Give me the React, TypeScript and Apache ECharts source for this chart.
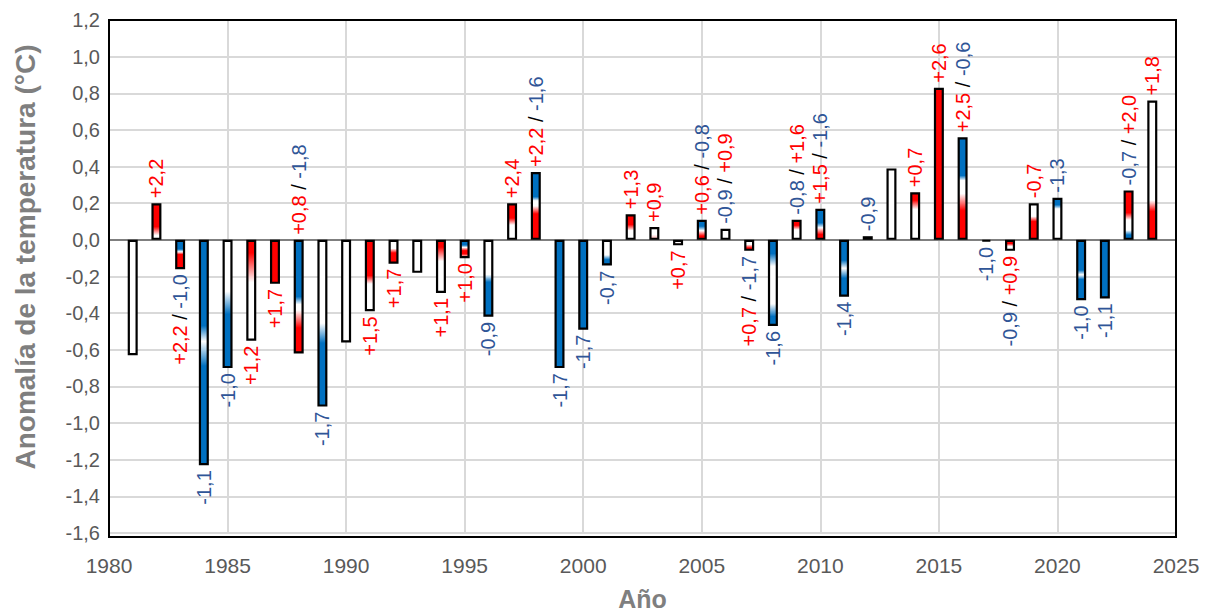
import React, { useEffect, useRef } from "react";
import * as echarts from "echarts";

const years = [
  1981, 1982, 1983, 1984, 1985, 1986, 1987, 1988, 1989, 1990, 1991,
  1992, 1993, 1994, 1995, 1996, 1997, 1998, 1999, 2000, 2001, 2002,
  2003, 2004, 2005, 2006, 2007, 2008, 2009, 2010, 2011, 2012, 2013,
  2014, 2015, 2016, 2017, 2018, 2019, 2020, 2021, 2022, 2023, 2024,
];

const anomalies = [
  -0.63, 0.2, -0.16, -1.23, -0.7, -0.55, -0.24, -0.62, -0.91, -0.56, -0.39,
  -0.13, -0.18, -0.29, -0.1, -0.42, 0.2, 0.37, -0.7, -0.49, -0.14, 0.14,
  0.07, -0.03, 0.11, 0.06, -0.06, -0.47, 0.11, 0.17, -0.31, 0.02, 0.39,
  0.26, 0.83, 0.56, -0.01, -0.06, 0.2, 0.23, -0.33, -0.32, 0.27, 0.76,
];

// label segments: [text, colour key]  (p = red, n = blue, s = black slash)
const labels: [string, string][][] = [
  [],
  [["+2,2", "p"]],
  [["+2,2", "p"], ["/", "s"], ["-1,0", "n"]],
  [["-1,1", "n"]],
  [["-1,0", "n"]],
  [["+1,2", "p"]],
  [["+1,7", "p"]],
  [["+0,8", "p"], ["/", "s"], ["-1,8", "n"]],
  [["-1,7", "n"]],
  [],
  [["+1,5", "p"]],
  [["+1,7", "p"]],
  [],
  [["+1,1", "p"]],
  [["+1,0", "p"]],
  [["-0,9", "n"]],
  [["+2,4", "p"]],
  [["+2,2", "p"], ["/", "s"], ["-1,6", "n"]],
  [["-1,7", "n"]],
  [["-1,7", "n"]],
  [["-0,7", "n"]],
  [["+1,3", "p"]],
  [["+0,9", "p"]],
  [["+0,7", "p"]],
  [["+0,6", "p"], ["/", "s"], ["-0,8", "n"]],
  [["-0,9", "n"], ["/", "s"], ["+0,9", "p"]],
  [["+0,7", "p"], ["/", "s"], ["-1,7", "n"]],
  [["-1,6", "n"]],
  [["-0,8", "n"], ["/", "s"], ["+1,6", "p"]],
  [["+1,5", "p"], ["/", "s"], ["-1,6", "n"]],
  [["-1,4", "n"]],
  [["-0,9", "n"]],
  [],
  [["+0,7", "p"]],
  [["+2,6", "p"]],
  [["+2,5", "p"], ["/", "s"], ["-0,6", "n"]],
  [["-1,0", "n"]],
  [["-0,9", "n"], ["/", "s"], ["+0,9", "p"]],
  [["-0,7", "p"]],
  [["-1,3", "n"]],
  [["-1,0", "n"]],
  [["-1,1", "n"]],
  [["-0,7", "n"], ["/", "s"], ["+2,0", "p"]],
  [["+1,8", "p"]],
];

// label side: t = above the bar's upper edge, b = below the bar's lower edge
const labelSide = [
  "b", "t", "b", "b", "b", "b", "b", "t", "b", "b", "b",
  "b", "b", "b", "b", "b", "t", "t", "b", "b", "b", "t",
  "t", "b", "t", "t", "b", "b", "t", "t", "b", "t", "t",
  "t", "t", "t", "b", "b", "t", "t", "b", "b", "t", "t",
];

// gradient fills, top -> bottom of each bar: [offset, colour key]
const fills: [number, string][][] = [
  [[0, "W"], [1, "W"]],
  [[0, "R"], [0.65, "R"], [0.9, "W"], [1, "W"]],
  [[0, "B"], [0.3, "B"], [0.4, "W"], [0.5, "R"], [1, "R"]],
  [[0, "B"], [0.38, "B"], [0.45, "W"], [0.56, "B"], [1, "B"]],
  [[0, "W"], [0.4, "W"], [0.58, "B"], [1, "B"]],
  [[0, "R"], [0.12, "R"], [0.42, "W"], [1, "W"]],
  [[0, "R"], [1, "R"]],
  [[0, "B"], [0.5, "B"], [0.57, "W"], [0.62, "W"], [0.78, "R"], [1, "R"]],
  [[0, "W"], [0.5, "W"], [0.62, "B"], [1, "B"]],
  [[0, "W"], [1, "W"]],
  [[0, "R"], [0.5, "R"], [0.62, "W"], [1, "W"]],
  [[0, "W"], [0.35, "W"], [0.55, "R"], [1, "R"]],
  [[0, "W"], [1, "W"]],
  [[0, "R"], [0.12, "R"], [0.4, "W"], [1, "W"]],
  [[0, "B"], [0.25, "B"], [0.4, "W"], [0.6, "R"], [0.8, "R"], [1, "W"]],
  [[0, "W"], [0.45, "W"], [0.55, "B"], [1, "B"]],
  [[0, "R"], [0.4, "R"], [0.6, "W"], [1, "W"]],
  [[0, "B"], [0.36, "B"], [0.42, "W"], [0.5, "W"], [0.62, "R"], [1, "R"]],
  [[0, "B"], [1, "B"]],
  [[0, "B"], [1, "B"]],
  [[0, "W"], [0.6, "W"], [0.8, "B"], [1, "B"]],
  [[0, "R"], [0.4, "R"], [0.65, "W"], [1, "W"]],
  [[0, "W"], [0.6, "W"], [1, "P"]],
  [[0, "W"], [0.5, "W"], [1, "P"]],
  [[0, "B"], [0.3, "B"], [0.55, "W"], [0.85, "R"], [1, "R"]],
  [[0, "W"], [1, "W"]],
  [[0, "W"], [0.4, "W"], [0.8, "R"], [1, "R"]],
  [[0, "B"], [0.15, "B"], [0.3, "W"], [0.75, "W"], [0.9, "B"], [1, "B"]],
  [[0, "R"], [0.25, "R"], [0.5, "W"], [1, "W"]],
  [[0, "B"], [0.45, "B"], [0.62, "W"], [0.85, "R"], [1, "R"]],
  [[0, "B"], [0.35, "B"], [0.5, "W"], [0.68, "B"], [1, "B"]],
  [[0, "W"], [1, "W"]],
  [[0, "W"], [1, "W"]],
  [[0, "R"], [0.15, "R"], [0.35, "W"], [1, "W"]],
  [[0, "R"], [1, "R"]],
  [[0, "B"], [0.37, "B"], [0.42, "W"], [0.55, "W"], [0.72, "R"], [1, "R"]],
  [[0, "W"], [1, "W"]],
  [[0, "R"], [0.3, "R"], [0.6, "W"], [1, "W"]],
  [[0, "W"], [0.35, "W"], [0.5, "R"], [1, "R"]],
  [[0, "B"], [0.15, "B"], [0.25, "W"], [1, "W"]],
  [[0, "B"], [0.5, "B"], [0.58, "W"], [0.66, "B"], [1, "B"]],
  [[0, "B"], [1, "B"]],
  [[0, "R"], [0.45, "R"], [0.6, "W"], [0.82, "W"], [0.92, "B"], [1, "B"]],
  [[0, "W"], [0.72, "W"], [0.8, "R"], [1, "R"]],
];

const yTicks = { min: -1.6, max: 1.2, interval: 0.2 };
const xTicks = { min: 1980, max: 2025, interval: 5 };

const FILL: Record<string, string> = {
  R: "#FF0000",
  B: "#0070C0",
  W: "#FFFFFF",
  P: "#FFB0B0",
};

const FONT = '"Liberation Sans", Arial, sans-serif';
const LABEL_SIZE = 20;

export default function App() {
  const ref = useRef<HTMLDivElement>(null);

  useEffect(() => {
    if (!ref.current) return;
    const chart = echarts.init(ref.current, null, { renderer: "svg" });

    const gridLeft = 109;
    const gridTop = 20;
    const gridRight = 33;
    const gridBottom = 79;
    const W = 1209;
    const H = 616;

    const data = years.map((yr, i) => {
      const stops = fills[i].map(([o, k]) => ({ offset: o, color: FILL[k] }));
      const side = labelSide[i];
      const text = labels[i].map(([t, k]) => `{${k}|${t}}`).join(" ");
      return {
        value: [yr, anomalies[i]],
        itemStyle: {
          color: new echarts.graphic.LinearGradient(0, 0, 0, 1, stops),
        },
        label: {
          show: labels[i].length > 0,
          position: side === "t" ? "top" : "bottom",
          rotate: 90,
          align: side === "t" ? "left" : "right",
          verticalAlign: "middle",
          distance: 5,
          formatter: () => text,
        },
      };
    });

    const rich = {
      p: { color: "#FF0000", fontSize: LABEL_SIZE, fontFamily: FONT },
      n: { color: "#2F5597", fontSize: LABEL_SIZE, fontFamily: FONT },
      s: { color: "#000000", fontSize: LABEL_SIZE, fontFamily: FONT },
    };

    chart.setOption({
      animation: false,
      backgroundColor: "#FFFFFF",
      textStyle: { fontFamily: FONT },
      grid: {
        left: gridLeft,
        top: gridTop,
        right: gridRight,
        bottom: gridBottom,
        containLabel: false,
      },
      xAxis: {
        type: "value",
        min: xTicks.min,
        max: xTicks.max,
        interval: xTicks.interval,
        name: "Año",
        nameLocation: "middle",
        nameGap: 53,
        nameTextStyle: {
          fontSize: 25,
          fontWeight: "bold",
          color: "#7F7F7F",
          fontFamily: FONT,
        },
        axisLine: { show: false },
        axisTick: { show: false },
        axisLabel: {
          fontSize: 21,
          color: "#595959",
          margin: 22,
          fontFamily: FONT,
          formatter: (v: number) => String(v),
        },
        splitLine: { show: true, lineStyle: { color: "#D9D9D9", width: 2 } },
      },
      yAxis: {
        type: "value",
        min: yTicks.min,
        max: yTicks.max,
        interval: yTicks.interval,
        axisLine: { show: false },
        axisTick: { show: false },
        axisLabel: {
          fontSize: 20,
          color: "#595959",
          margin: 9,
          fontFamily: FONT,
          formatter: (v: number) => v.toFixed(1).replace(".", ","),
        },
        splitLine: { show: true, lineStyle: { color: "#D9D9D9", width: 2 } },
      },
      series: [
        {
          type: "bar",
          barWidth: 10,
          data,
          itemStyle: { borderColor: "#000000", borderWidth: 2.2 },
          label: { rich, fontFamily: FONT, fontSize: LABEL_SIZE },
          markLine: {
            silent: true,
            symbol: "none",
            label: { show: false },
            lineStyle: { color: "#7F7F7F", width: 2, type: "solid" },
            data: [{ yAxis: 0 }],
            z: 1,
          },
        },
      ],
      graphic: [
        {
          type: "rect",
          z: 100,
          silent: true,
          shape: {
            x: gridLeft,
            y: gridTop,
            width: W - gridLeft - gridRight,
            height: H - gridTop - gridBottom,
          },
          style: { fill: "none", stroke: "#000000", lineWidth: 2 },
        },
        {
          type: "text",
          x: 25,
          y: 257,
          rotation: Math.PI / 2,
          style: {
            text: "Anomalía de la temperatura (°C)",
            align: "center",
            verticalAlign: "middle",
            font: `bold 28px ${FONT}`,
            fill: "#7F7F7F",
          },
        },
      ],
    });

    return () => chart.dispose();
  }, []);

  return (
    <div
      ref={ref}
      style={{ position: "fixed", left: 0, top: 0, width: 1209, height: 616 }}
    />
  );
}
